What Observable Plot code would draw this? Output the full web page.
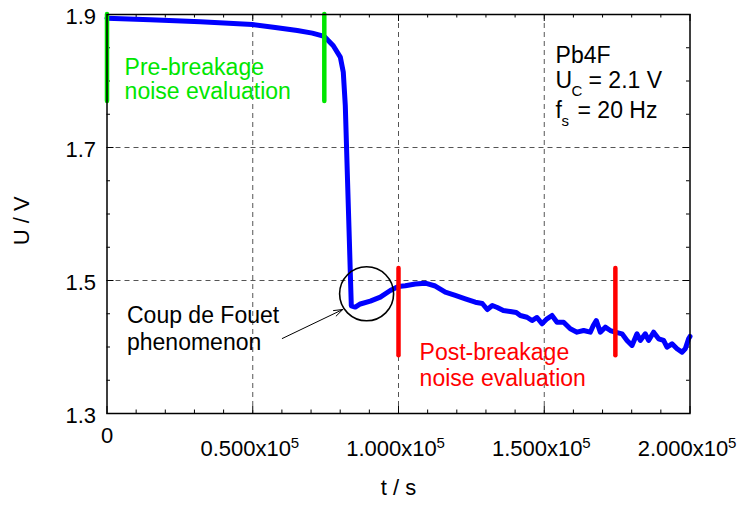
<!DOCTYPE html>
<html>
<head>
<meta charset="utf-8">
<script src="https://cdn.jsdelivr.net/npm/d3@7"></script>
<script src="https://cdn.jsdelivr.net/npm/@observablehq/plot@0.6"></script>
<style>
  body { margin: 0; background: #fff; }
</style>
</head>
<body>
<div id="chart"></div>
<script>
// ---- data ----
const timeS = [0, 14854, 32007, 49846, 57736, 65283, 70429, 74545,
  77633, 80034, 81063, 81750, 82436, 83122, 83465, 83808,
  85180, 86895, 90326, 93756, 97187, 99931, 102333, 105763,
  109194, 112624, 116055, 119485, 122916, 126346, 128748, 130463,
  132178, 133894, 135952, 138353, 140412, 141784, 144082, 145797,
  147513, 149228, 150943, 152659, 154374, 156638, 158937, 161235,
  163499, 165797, 166826, 167856, 169228, 170943, 172659, 174374,
  176672, 178388, 180103, 181818, 182950, 184666, 185798, 187513,
  189228, 190944, 192110, 193825, 195540, 197256, 198388, 199520,
  200000];
const voltageV = [1.8944, 1.892, 1.889, 1.885, 1.8805, 1.876, 1.872, 1.867,
  1.853, 1.836, 1.813, 1.763, 1.662, 1.563, 1.512, 1.462,
  1.460, 1.4647, 1.469, 1.475, 1.485, 1.491, 1.492, 1.4947,
  1.496, 1.4917, 1.4824, 1.4775, 1.4725, 1.4674, 1.4654, 1.4564,
  1.4624, 1.4594, 1.4549, 1.4534, 1.4519, 1.4474, 1.4448, 1.4398,
  1.4444, 1.4349, 1.4424, 1.4474, 1.4373, 1.4373, 1.4274, 1.4223,
  1.4248, 1.4223, 1.4323, 1.4398, 1.4223, 1.4298, 1.4248, 1.4223,
  1.4198, 1.4098, 1.4023, 1.4198, 1.4098, 1.4198, 1.4098, 1.4223,
  1.4123, 1.4098, 1.3997, 1.4048, 1.3973, 1.3922, 1.3973, 1.4123,
  1.4158];

// evaluation windows (time marks and voltage extents)
const preBreakTimes = [0, 74545];
const preBreakRange = [1.769, 1.9];
const postBreakTimes = [100000, 174400];
const postBreakRange = [1.387, 1.518];

// Coup de Fouet marker
const coupCenter = {t: 89057, v: 1.48};
const coupArrow = {t1: 60137, v1: 1.4128, t2: 80892, v2: 1.4564};

// ticks
const majorX = [0, 50000, 100000, 150000, 200000];
const minorX = [10000, 20000, 30000, 40000, 60000, 70000, 80000, 90000,
  110000, 120000, 130000, 140000, 160000, 170000, 180000, 190000];
const gridXTicks = [50000, 100000, 150000];
const majorY = [1.3, 1.5, 1.7, 1.9];
const minorY = [1.35, 1.4, 1.45, 1.55, 1.6, 1.65, 1.75, 1.8, 1.85];
const gridYTicks = [1.5, 1.7];

// labels
const xTitle = "t / s";
const yTitle = "U / V";
const preLabel = "Pre-breakage\nnoise evaluation";
const postLabel = "Post-breakage\nnoise evaluation";
const coupLabel = "Coup de Fouet\nphenomenon";
const infoTitle = "Pb4F";
const infoU = ["U", "C", "= 2.1 V"];
const infoF = ["f", "s", "= 20 Hz"];

// ---- build ----
const series = timeS.map((t, i) => ({t, v: voltageV[i]}));
const mkBars = (times, range) => times.map(t => ({t, v1: range[0], v2: range[1]}));

const W = 743, H = 506, mL = 106.5, mR = 53.5, mT = 14, mB = 93;
const fw = W - mL - mR, fh = H - mT - mB;
const major = 7, minor = 3.5;
const GREEN = "#00e600", RED = "#ff0000", BLUE = "#0000ff";
const font = "'Liberation Sans', Arial, sans-serif";

const infoT = 153877;

const chart = Plot.plot({
  width: W, height: H,
  marginLeft: mL, marginRight: mR, marginTop: mT, marginBottom: mB,
  style: {fontFamily: font, fontSize: "22px", background: "#fff", color: "#000"},
  x: {domain: [0, 200000]},
  y: {domain: [1.3, 1.9]},
  marks: [
    Plot.gridX(gridXTicks, {stroke: "#555", strokeOpacity: 1, strokeWidth: 1, strokeDasharray: "5,4"}),
    Plot.gridY(gridYTicks, {stroke: "#555", strokeOpacity: 1, strokeWidth: 1, strokeDasharray: "5,4"}),
    // inward ticks on all four sides
    Plot.tickX(majorX, {x: d => d, insetTop: fh - major, stroke: "#000"}),
    Plot.tickX(minorX, {x: d => d, insetTop: fh - minor, stroke: "#000"}),
    Plot.tickX(majorX, {x: d => d, insetBottom: fh - major, stroke: "#000"}),
    Plot.tickX(minorX, {x: d => d, insetBottom: fh - minor, stroke: "#000"}),
    Plot.tickY(majorY, {y: d => d, insetRight: fw - major, stroke: "#000"}),
    Plot.tickY(minorY, {y: d => d, insetRight: fw - minor, stroke: "#000"}),
    Plot.tickY(majorY, {y: d => d, insetLeft: fw - major, stroke: "#000"}),
    Plot.tickY(minorY, {y: d => d, insetLeft: fw - minor, stroke: "#000"}),
    // axis labels
    Plot.axisY({ticks: majorY, tickSize: 0, tickPadding: 11, dy: 2, tickFormat: d => d.toFixed(1), fontSize: 22, label: null}),
    Plot.axisX({ticks: [0], tickSize: 0, tickPadding: 13.5, tickFormat: () => "0", fontSize: 22, label: null}),
    Plot.axisX({ticks: majorX.slice(1), tickSize: 0, tickPadding: 27, dx: -7, tickFormat: d => (d / 1e5).toFixed(3) + "x10", fontSize: 22, label: null}),
    Plot.text(majorX.slice(1), {x: d => d, frameAnchor: "bottom", text: () => "5", dx: 38, dy: 34, lineAnchor: "bottom", textAnchor: "start", fontSize: 15}),
    Plot.text([yTitle], {y: () => 1.553, frameAnchor: "left", rotate: -90, dx: -85, fontSize: 22}),
    Plot.text([xTitle], {frameAnchor: "bottom", dy: 81, fontSize: 22}),
    // data
    Plot.line(series, {x: "t", y: "v", stroke: BLUE, strokeWidth: 5, strokeLinejoin: "round", strokeLinecap: "round"}),
    Plot.ruleX(mkBars(preBreakTimes, preBreakRange), {x: "t", y1: "v1", y2: "v2", stroke: GREEN, strokeWidth: 4.5, strokeLinecap: "round"}),
    Plot.ruleX(mkBars(postBreakTimes, postBreakRange), {x: "t", y1: "v1", y2: "v2", stroke: RED, strokeWidth: 4.5, strokeLinecap: "round"}),
    // annotations
    Plot.text([preLabel], {x: 6038, y: 1.7722, lineAnchor: "bottom", textAnchor: "start", fill: GREEN, fontSize: 23, lineHeight: 1.07}),
    Plot.text([postLabel], {x: 107238, y: 1.3411, lineAnchor: "bottom", textAnchor: "start", fill: RED, fontSize: 23, lineHeight: 1.12}),
    Plot.text([coupLabel], {x: 6861, y: 1.3962, lineAnchor: "bottom", textAnchor: "start", fill: "#000", fontSize: 23, lineHeight: 1.17}),
    Plot.dot([coupCenter], {x: "t", y: "v", r: 27, stroke: "#000", strokeWidth: 1.6, fill: "none"}),
    Plot.arrow([coupArrow], {x1: "t1", y1: "v1", x2: "t2", y2: "v2", stroke: "#000", strokeWidth: 1, headLength: 14, headAngle: 38}),
    // info box
    Plot.text([infoTitle], {x: infoT, y: 1.8278, lineAnchor: "bottom", textAnchor: "start", fontSize: 23}),
    Plot.text([infoU[0]], {x: infoT, y: 1.7902, lineAnchor: "bottom", textAnchor: "start", fontSize: 23}),
    Plot.text([infoU[1]], {x: infoT, y: 1.7902, dx: 16, dy: 8, lineAnchor: "bottom", textAnchor: "start", fontSize: 15}),
    Plot.text([infoU[2]], {x: infoT, y: 1.7902, dx: 33, lineAnchor: "bottom", textAnchor: "start", fontSize: 23}),
    Plot.text([infoF[0]], {x: infoT, y: 1.7451, lineAnchor: "bottom", textAnchor: "start", fontSize: 23}),
    Plot.text([infoF[1]], {x: infoT, y: 1.7451, dx: 6, dy: 8, lineAnchor: "bottom", textAnchor: "start", fontSize: 15}),
    Plot.text([infoF[2]], {x: infoT, y: 1.7451, dx: 22, lineAnchor: "bottom", textAnchor: "start", fontSize: 23}),
    Plot.frame({stroke: "#000", strokeWidth: 1.5})
  ]
});
document.getElementById("chart").appendChild(chart);
</script>
</body>
</html>
